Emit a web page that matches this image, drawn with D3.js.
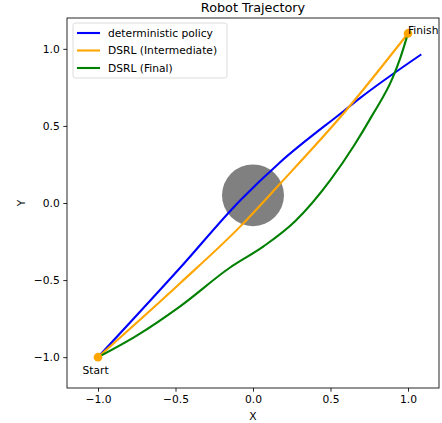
<!DOCTYPE html>
<html><head><meta charset="utf-8">
<script src="https://cdn.jsdelivr.net/npm/d3@7"></script>
<style>body{margin:0;background:#fff;} svg{display:block;} text{font-family:"DejaVu Sans",sans-serif;fill:#000;}</style>
</head><body>
<script>
const xTicks = [-1.0, -0.5, 0.0, 0.5, 1.0];
const yTicks = [-1.0, -0.5, 0.0, 0.5, 1.0];
const deterministic = [[-1,-1],[-0.47,-0.42],[-0.08,0.02],[0.17,0.26],[0.59,0.6],[0.69,0.68],[1.08,0.96]];
const dsrlIntermediate = [[-1,-1],[-0.47,-0.52],[-0.08,-0.15],[0.17,0.12],[0.6,0.6],[1,1.1]];
const dsrlFinal = [[-1,-1],[-0.75,-0.86],[-0.47,-0.67],[-0.15,-0.42],[0.07,-0.28],[0.27,-0.12],[0.5,0.15],[0.65,0.37],[0.77,0.57],[0.9,0.81],[0.95,0.94],[1,1.1]];
const seriesNames = ["deterministic policy","DSRL (Intermediate)","DSRL (Final)"];
const seriesColors = ["#0000ff","#ffa500","#008000"];
const obstacle = {cx:0, cy:0.05, r:0.2};
const startPt = [-1,-1], finishPt = [1,1.1];

const W=442,H=423, L=67,R=439,T=18,B=388;
const svg=d3.select("body").append("svg").attr("width",W).attr("height",H);
const x=d3.scaleLinear().domain([-1.2,1.2]).range([L,R]);
const y=d3.scaleLinear().domain([-1.2,1.2]).range([B,T]);
const fs=10.7;
const fmt=d=>d3.format(".1f")(d).replace("-","\u2212");

svg.append("clipPath").attr("id","clip").append("rect").attr("x",L).attr("y",T).attr("width",R-L).attr("height",B-T);
const plot=svg.append("g").attr("clip-path","url(#clip)");

plot.append("ellipse").attr("cx",x(obstacle.cx)).attr("cy",y(obstacle.cy))
  .attr("rx",x(obstacle.r)-x(0)).attr("ry",y(0)-y(obstacle.r)).attr("fill","#808080");

const line=d3.line().x(d=>x(d[0])).y(d=>y(d[1])).curve(d3.curveMonotoneX);
[deterministic,dsrlIntermediate,dsrlFinal].forEach((s,i)=>{
  plot.append("path").datum(s).attr("d",line).attr("fill","none").attr("stroke",seriesColors[i]).attr("stroke-width",2.1).attr("stroke-linecap","square");
});
[startPt,finishPt].forEach(p=>{
  svg.append("circle").attr("cx",x(p[0])).attr("cy",y(p[1])).attr("r",4.3).attr("fill","#ffa500");
});
svg.append("text").attr("x",x(-1.1)).attr("y",y(-1.1)+1).attr("font-size",fs).text("Start");
svg.append("text").attr("x",x(1.0)).attr("y",y(1.1)+1).attr("font-size",fs).text("Finish");

const xa=svg.append("g").attr("transform",`translate(0,${B})`).call(d3.axisBottom(x).tickValues(xTicks).tickFormat(fmt).tickSize(3.7).tickPadding(3.5));
const ya=svg.append("g").attr("transform",`translate(${L},0)`).call(d3.axisLeft(y).tickValues(yTicks).tickFormat(fmt).tickSize(3.7).tickPadding(3.5));
[xa,ya].forEach(a=>{a.select(".domain").remove();a.selectAll("text").attr("font-size",fs).attr("font-family","DejaVu Sans").attr("fill","#000");a.selectAll("line").attr("stroke","#000").attr("stroke-width",0.85);});
svg.append("rect").attr("x",L).attr("y",T).attr("width",R-L).attr("height",B-T).attr("fill","none").attr("stroke","#000").attr("stroke-width",0.85);

svg.append("text").attr("x",(L+R)/2).attr("y",420).attr("text-anchor","middle").attr("font-size",fs).text("X");
svg.append("text").attr("transform",`translate(24.5,${(T+B)/2}) rotate(-90)`).attr("text-anchor","middle").attr("font-size",fs).text("Y");
svg.append("text").attr("x",(L+R)/2).attr("y",11.8).attr("text-anchor","middle").attr("font-size",12.8).text("Robot Trajectory");

const lg=svg.append("g");
lg.append("rect").attr("x",73).attr("y",23).attr("width",154).attr("height",55).attr("rx",2.5)
  .attr("fill","#fff").attr("fill-opacity",0.8).attr("stroke","#d6d6d6").attr("stroke-width",0.85);
seriesNames.forEach((n,i)=>{
  const yy=33+i*17.5;
  lg.append("line").attr("x1",77).attr("x2",100).attr("y1",yy).attr("y2",yy).attr("stroke",seriesColors[i]).attr("stroke-width",2.1);
  lg.append("text").attr("x",108).attr("y",yy).attr("dy","0.35em").attr("font-size",fs).text(n);
});
</script>
</body></html>
